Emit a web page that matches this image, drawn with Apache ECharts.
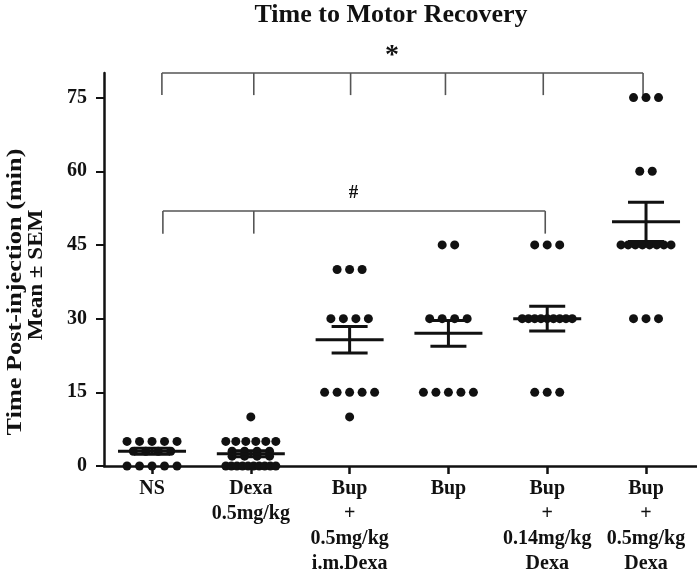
<!DOCTYPE html>
<html><head><meta charset="utf-8">
<script src="https://cdn.jsdelivr.net/npm/echarts@6/dist/echarts.min.js"></script>
<style>html,body{margin:0;padding:0;background:#fff}#c{width:697px;height:576px}</style>
</head><body><div id="c"></div>
<script>
// ---- data ----
const categories = ['NS', 'Dexa\n0.5mg/kg', 'Bup\n+\n0.5mg/kg\ni.m.Dexa', 'Bup', 'Bup\n+\n0.14mg/kg\nDexa', 'Bup\n+\n0.5mg/kg\nDexa'];
const nsValues = [0,0,0,0,0, 3,3,3,3, 5,5,5,5,5];
const dexaValues = [0,0,0,0,0,0,0,0,0,0, 2,2,2,2, 3,3,3,3, 5,5,5,5,5,5, 10];
const bupImDexaValues = [10, 15,15,15,15,15, 30,30,30,30, 40,40,40];
const bupValues = [15,15,15,15,15, 30,30,30,30, 45,45];
const bupDexa014Values = [15,15,15, 30,30,30,30,30,30,30,30,30, 45,45,45];
const bupDexa05Values = [30,30,30, 45,45,45,45,45,45,45,45, 60,60, 75,75,75];
const groupMeans = [3.0, 2.5, 25.7, 27.0, 30.0, 49.7];
const groupSems = [0.6, 0.6, 2.7, 2.6, 2.5, 4.0];
const yTicks = [0, 15, 30, 45, 60, 75];
const titleText = 'Time to Motor Recovery';
const yName1 = 'Time Post-injection (min)';
const yName2 = 'Mean \u00b1 SEM';

// ---- layout ----
const FONT = '"Liberation Serif", "Times New Roman", serif';
const X_MIN = -0.486, X_MAX = 5.516;
const PX_PER_UNIT = 98.8;
const groups = [nsValues, dexaValues, bupImDexaValues, bupValues, bupDexa014Values, bupDexa05Values];

// spread dots of equal value horizontally (like a column scatter)
const dotData = [];
groups.forEach((vals, gi) => {
  const counts = {};
  vals.forEach(v => { counts[v] = (counts[v] || 0) + 1; });
  Object.keys(counts).forEach(k => {
    const n = counts[k];
    const step = n > 1 ? Math.min(12.5, 50 / (n - 1)) : 0;
    for (let j = 0; j < n; j++) {
      const offPx = (j - (n - 1) / 2) * step;
      dotData.push([gi + offPx / PX_PER_UNIT, Number(k)]);
    }
  });
});

const meanData = groupMeans.map((m, i) => [i, m, groupSems[i]]);

const brackets = [
  { cats: [0, 1, 2, 3, 4, 5], nudge: [0.1, 0.03, 0.01, -0.03, -0.04, -0.03], top: 80, drop: 75.5, label: '*', lx: 2.43, ly: 83.6, size: 28 },
  { cats: [0, 1, 4], nudge: [0.11, 0.03, -0.02], top: 51.9, drop: 47.3, label: '#', lx: 2.04, ly: 55.6, size: 19 }
];

const chart = echarts.init(document.getElementById('c'));
chart.setOption({
  animation: false,
  backgroundColor: '#fff',
  textStyle: { fontFamily: FONT },
  grid: { left: 104, right: 0, top: 73, bottom: 108 },
  xAxis: {
    type: 'value', min: X_MIN, max: X_MAX,
    splitLine: { show: false },
    axisLine: { show: true, onZero: false, lineStyle: { color: '#111', width: 2.5 } },
    axisTick: { show: true, customValues: [0,1,2,3,4,5], length: 8, lineStyle: { color: '#111', width: 2.5 } },
    axisLabel: {
      customValues: [0,1,2,3,4,5], margin: 10,
      formatter: v => categories[Math.round(v)],
      color: '#111', fontFamily: FONT, fontWeight: 'bold', fontSize: 20, lineHeight: 25
    }
  },
  yAxis: {
    type: 'value', min: 0, max: 80,
    splitLine: { show: false },
    axisLine: { show: true, onZero: false, lineStyle: { color: '#111', width: 2.5 } },
    axisTick: { show: true, customValues: yTicks, length: 8, lineStyle: { color: '#111', width: 2 } },
    axisLabel: { customValues: yTicks, margin: 17, color: '#111', fontFamily: FONT, fontWeight: 'bold', fontSize: 20 }
  },
  graphic: [
    { type: 'text', x: 391, y: 15, style: { text: titleText, font: 'bold 26px ' + FONT, fill: '#111', align: 'center', verticalAlign: 'middle' } },
    { type: 'text', x: 16, y: 292, rotation: Math.PI / 2, scaleX: 1.25, style: { text: yName1, font: 'bold 21px ' + FONT, fill: '#111', align: 'center', verticalAlign: 'middle' } },
    { type: 'text', x: 37, y: 275, rotation: Math.PI / 2, scaleX: 1.1, style: { text: yName2, font: 'bold 21px ' + FONT, fill: '#111', align: 'center', verticalAlign: 'middle' } }
  ],
  series: [
    {
      type: 'custom', name: 'brackets', clip: false, z: 1,
      data: brackets.map((b, i) => [i]),
      renderItem: (params, api) => {
        const b = brackets[params.dataIndex];
        const y0 = api.coord([0, b.top])[1];
        const y1 = api.coord([0, b.drop])[1];
        const xs = b.cats.map((c, i) => api.coord([c + b.nudge[i], 0])[0]);
        const st = { stroke: '#555', lineWidth: 1.6 };
        const children = [{ type: 'line', shape: { x1: xs[0], y1: y0, x2: xs[xs.length - 1], y2: y0 }, style: st }];
        xs.forEach(x => children.push({ type: 'line', shape: { x1: x, y1: y0, x2: x, y2: y1 }, style: st }));
        const lp = api.coord([b.lx, b.ly]);
        children.push({ type: 'text', x: lp[0], y: lp[1], style: { text: b.label, font: 'bold ' + b.size + 'px ' + FONT, fill: '#111', align: 'center', verticalAlign: 'middle' } });
        return { type: 'group', children };
      }
    },
    {
      type: 'scatter', name: 'subjects', data: dotData, symbol: 'circle', symbolSize: 9, z: 3,
      itemStyle: { color: '#111', opacity: 1 }
    },
    {
      type: 'custom', name: 'mean', data: meanData, z: 4,
      renderItem: (params, api) => {
        const x = api.value(0), m = api.value(1), s = api.value(2);
        const c = api.coord([x, m]);
        const t = api.coord([x, m + s]);
        const b = api.coord([x, m - s]);
        const st = { stroke: '#111', lineWidth: 3 };
        return { type: 'group', children: [
          { type: 'line', shape: { x1: c[0] - 34, y1: c[1], x2: c[0] + 34, y2: c[1] }, style: st },
          { type: 'line', shape: { x1: t[0] - 18, y1: t[1], x2: t[0] + 18, y2: t[1] }, style: st },
          { type: 'line', shape: { x1: b[0] - 18, y1: b[1], x2: b[0] + 18, y2: b[1] }, style: st },
          { type: 'line', shape: { x1: c[0], y1: t[1], x2: c[0], y2: b[1] }, style: st }
        ] };
      }
    }
  ]
});
</script>
</body></html>
